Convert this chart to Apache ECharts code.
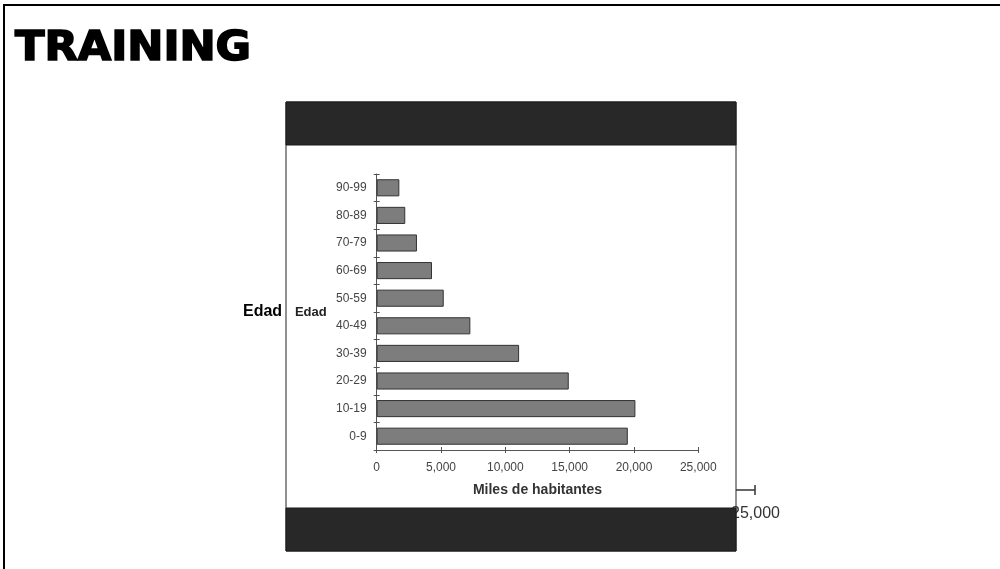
<!DOCTYPE html>
<html><head><meta charset="utf-8">
<script src="https://cdn.jsdelivr.net/npm/echarts@6/dist/echarts.min.js"></script>
<style>html,body{margin:0;padding:0;background:#fff}#c{width:1000px;height:569px}</style>
</head><body><div id="c"></div>
<script>
var categories = ['0-9','10-19','20-29','30-39','40-49','50-59','60-69','70-79','80-89','90-99'];
var values = [19520, 20110, 14930, 11070, 7280, 5210, 4300, 3130, 2220, 1760];
var xTicks = [0, 5000, 10000, 15000, 20000, 25000];
var titleText = 'TRAINING';
var yName = 'Edad';
var xName = 'Miles de habitantes';
var strayLabel = '25,000';

var chart = echarts.init(document.getElementById('c'), null, {renderer: 'canvas'});
var F = 'Liberation Sans, Arial, sans-serif';
var gridPos = {left: 376.7, right: 301.7, top: 174, bottom: 119};
var fmt = function (v) { return v.toLocaleString('en-US'); };
var axisCol = '#555';
chart.setOption({
  backgroundColor: '#fff',
  animation: false,
  grid: [Object.assign({}, gridPos, {z: 3}), Object.assign({}, gridPos, {z: 3})],
  xAxis: [{
    type: 'value', gridIndex: 0, min: xTicks[0], max: xTicks[xTicks.length - 1], interval: xTicks[1] - xTicks[0],
    axisLine: {show: true, lineStyle: {color: axisCol, width: 1}},
    axisTick: {show: true, length: 3, lineStyle: {color: axisCol}},
    splitLine: {show: false},
    axisLabel: {color: '#444', fontFamily: F, fontSize: 12, margin: 12, formatter: fmt},
    name: xName, nameLocation: 'middle', nameGap: 33,
    nameTextStyle: {color: '#333', fontFamily: F, fontSize: 14, fontWeight: 'bold'}
  }, {
    type: 'value', gridIndex: 1, min: xTicks[0], max: xTicks[xTicks.length - 1], interval: xTicks[1] - xTicks[0],
    axisLine: {show: false}, axisTick: {show: true, inside: true, length: 3, lineStyle: {color: axisCol}},
    splitLine: {show: false}, axisLabel: {show: false}
  }],
  yAxis: [{
    type: 'category', gridIndex: 0, data: categories,
    axisLine: {show: true, lineStyle: {color: axisCol, width: 1}},
    axisTick: {show: true, length: 3, lineStyle: {color: axisCol}},
    axisLabel: {color: '#444', fontFamily: F, fontSize: 12, margin: 10},
    name: yName, nameLocation: 'middle', nameRotate: 0, nameGap: 50,
    nameTextStyle: {color: '#222', fontFamily: F, fontSize: 13, fontWeight: 'bold', align: 'right', verticalAlign: 'middle'}
  }, {
    type: 'category', gridIndex: 1, data: categories,
    axisLine: {show: false}, axisTick: {show: true, inside: true, length: 3, lineStyle: {color: axisCol}},
    axisLabel: {show: false}
  }],
  series: [{
    type: 'bar', xAxisIndex: 0, yAxisIndex: 0, data: values, barCategoryGap: '38%',
    itemStyle: {color: '#7d7d7d', borderColor: '#333', borderWidth: 1},
    z: 3
  }],
  graphic: [
    {type: 'line', shape: {x1: 3, y1: 5, x2: 1000, y2: 5}, style: {stroke: '#000', lineWidth: 2}, z: 1},
    {type: 'line', shape: {x1: 4, y1: 4, x2: 4, y2: 569}, style: {stroke: '#000', lineWidth: 2}, z: 1},
    {type: 'text', x: 15, y: 50, scaleX: 1.08, style: {text: titleText, font: 'bold 40px "DejaVu Sans"', fill: '#000', stroke: '#000', lineWidth: 1.6, textVerticalAlign: 'middle'}, z: 1},
    {type: 'rect', shape: {x: 286, y: 102, width: 450, height: 449}, style: {fill: '#fff', stroke: '#222', lineWidth: 1}, z: 0},
    {type: 'line', shape: {x1: 736, y1: 490, x2: 755, y2: 490}, style: {stroke: '#333', lineWidth: 1.5}, z: 1},
    {type: 'line', shape: {x1: 755, y1: 485, x2: 755, y2: 495}, style: {stroke: '#333', lineWidth: 1.5}, z: 1},
    {type: 'text', x: 731, y: 514, style: {text: strayLabel, font: '16px "Liberation Sans", Arial', fill: '#333', textVerticalAlign: 'middle'}, z: 1},
    {type: 'rect', shape: {x: 286, y: 102, width: 450, height: 43}, style: {fill: '#282828', stroke: '#1a1a1a', lineWidth: 1}, z: 5},
    {type: 'rect', shape: {x: 286, y: 508, width: 450, height: 43}, style: {fill: '#282828', stroke: '#1a1a1a', lineWidth: 1}, z: 5},
    {type: 'text', x: 243, y: 312, style: {text: yName, font: 'bold 16px "Liberation Sans", Arial', fill: '#000', textVerticalAlign: 'middle'}, z: 1}
  ]
});
</script></body></html>
